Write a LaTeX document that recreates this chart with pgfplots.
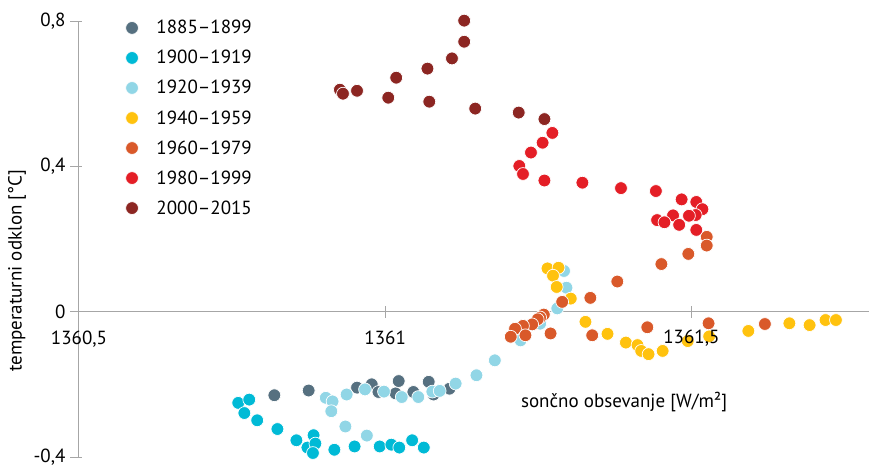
\documentclass[border=0pt]{standalone}
\usepackage{fontspec}
\setmainfont{PT Sans}
\usepackage{pgfplots}
\usepackage{pgfplotstable}
\pgfplotsset{compat=1.18}
\definecolor{axisgray}{RGB}{166,166,166}
\definecolor{cA}{RGB}{86,112,128}
\definecolor{cB}{RGB}{0,186,214}
\definecolor{cC}{RGB}{145,214,230}
\definecolor{cD}{RGB}{255,194,14}
\definecolor{cE}{RGB}{217,89,42}
\definecolor{cF}{RGB}{228,30,38}
\definecolor{cG}{RGB}{140,38,34}

\pgfplotstableread{
x y
1360.819 -0.230
1360.875 -0.217
1360.954 -0.209
1360.978 -0.200
1360.989 -0.221
1361.017 -0.225
1361.022 -0.191
1361.046 -0.221
1361.071 -0.193
1361.079 -0.228
1361.105 -0.212
}\tA
\pgfplotstableread{
x y
1360.760 -0.251
1360.778 -0.242
1360.770 -0.279
1360.791 -0.299
1360.824 -0.323
1360.855 -0.354
1360.883 -0.340
1360.873 -0.374
1360.886 -0.363
1360.882 -0.389
1360.917 -0.380
1360.950 -0.371
1360.991 -0.371
1361.010 -0.366
1361.023 -0.374
1361.044 -0.354
1361.063 -0.374
}\tB
\pgfplotstableread{
x y
1360.903 -0.237
1360.914 -0.247
1360.912 -0.274
1360.937 -0.228
1360.967 -0.214
1360.998 -0.220
1361.027 -0.235
1361.054 -0.235
1361.077 -0.220
1361.089 -0.218
1361.115 -0.198
1361.149 -0.175
1361.179 -0.134
1360.935 -0.316
1360.970 -0.341
1361.221 -0.079
1361.253 -0.033
1361.281 0.009
1361.296 0.066
1361.292 0.112
}\tC
\pgfplotstableread{
x y
1361.265 0.119
1361.283 0.121
1361.274 0.099
1361.280 0.068
1361.303 0.036
1361.327 -0.028
1361.363 -0.061
1361.393 -0.085
1361.412 -0.092
1361.418 -0.108
1361.430 -0.117
1361.453 -0.108
1361.494 -0.081
1361.529 -0.068
1361.593 -0.053
1361.660 -0.032
1361.693 -0.037
1361.719 -0.023
1361.736 -0.023
}\tD
\pgfplotstableread{
x y
1361.525 0.206
1361.525 0.182
1361.495 0.159
1361.451 0.131
1361.379 0.083
1361.335 0.038
1361.289 0.027
1361.259 -0.008
1361.253 -0.016
1361.249 -0.021
1361.240 -0.035
1361.225 -0.039
1361.212 -0.047
1361.229 -0.065
1361.205 -0.069
1361.270 -0.060
1361.338 -0.065
1361.428 -0.043
1361.528 -0.032
1361.620 -0.034
}\tE
\pgfplotstableread{
x y
1361.273 0.492
1361.257 0.465
1361.238 0.438
1361.219 0.401
1361.225 0.379
1361.260 0.361
1361.322 0.355
1361.385 0.340
1361.442 0.332
1361.484 0.309
1361.508 0.302
1361.518 0.282
1361.507 0.266
1361.496 0.264
1361.470 0.265
1361.444 0.252
1361.456 0.246
1361.480 0.239
1361.508 0.225
}\tF
\pgfplotstableread{
x y
1361.129 0.801
1361.129 0.743
1361.109 0.697
1361.069 0.669
1361.018 0.644
1360.926 0.611
1360.931 0.600
1360.954 0.608
1361.005 0.589
1361.072 0.578
1361.147 0.559
1361.218 0.548
1361.260 0.530
}\tG

\begin{document}
\begin{tikzpicture}[font=\fontsize{19}{23}\selectfont]
\begin{axis}[name=ax, scale only axis, width=790pt, height=436pt,
  xmin=1360.5, xmax=1361.79, ymin=-0.4, ymax=0.8,
  enlargelimits=false, clip=false,
  axis x line=middle, axis y line=left,
  axis line style={-, draw=axisgray, line width=1pt},
  every inner x axis line/.append style={-},
  every outer y axis line/.append style={-},
  hide obscured x ticks=false, hide obscured y ticks=false,
  xtick={1360.5,1361,1361.5}, xticklabels={{1360,5},{1361},{}},
  ytick={-0.4,0,0.4,0.8}, yticklabels={{-0,4},{0},{0,4},{0,8}},
  minor tick num=0,
  tick style={draw=axisgray, line width=1pt},
  tick align=center, major tick length=12pt,
  ytick style={xshift=-3pt},
  xticklabel style={yshift=-10pt},
  yticklabel style={xshift=-4pt},
  legend cell align=left,
  legend image code/.code={\draw[#1] plot coordinates {(0pt,0pt)};},
  legend style={draw=none, fill=none, at={(axis description cs:0.055,1.011)}, anchor=north west,
    row sep=11pt, column sep=16pt, font=\fontsize{19}{23}\selectfont},
  every axis plot/.append style={only marks, mark=*, mark size=6.4pt},
]
\addplot[mark options={draw=white, line width=0.7pt, fill=cA}] table[x=x,y=y] {\tA};
\addlegendentry{1885–1899}
\addplot[mark options={draw=white, line width=0.7pt, fill=cB}] table[x=x,y=y] {\tB};
\addlegendentry{1900–1919}
\addplot[mark options={draw=white, line width=0.7pt, fill=cC}] table[x=x,y=y] {\tC};
\addlegendentry{1920–1939}
\addplot[mark options={draw=white, line width=0.7pt, fill=cD}] table[x=x,y=y] {\tD};
\addlegendentry{1940–1959}
\addplot[mark options={draw=white, line width=0.7pt, fill=cE}] table[x=x,y=y] {\tE};
\addlegendentry{1960–1979}
\addplot[mark options={draw=white, line width=0.7pt, fill=cF}] table[x=x,y=y] {\tF};
\addlegendentry{1980–1999}
\addplot[mark options={draw=white, line width=0.7pt, fill=cG}] table[x=x,y=y] {\tG};
\addlegendentry{2000–2015}
\coordinate (lab15) at (axis cs:1361.5,-0.073);
\node[rotate=90, anchor=center] at (axis description cs:-0.0785,0.427) {temperaturni odklon [°C]};
\node[anchor=center] at (axis description cs:0.690,0.126) {sončno obsevanje [W/m²]};
\end{axis}
\node[anchor=center] at (lab15) {1361,5};
\pgfresetboundingbox
\path[use as bounding box] (ax.south west) ++(-79pt,-9pt) rectangle ++(869pt,466pt);
\end{tikzpicture}
\end{document}
